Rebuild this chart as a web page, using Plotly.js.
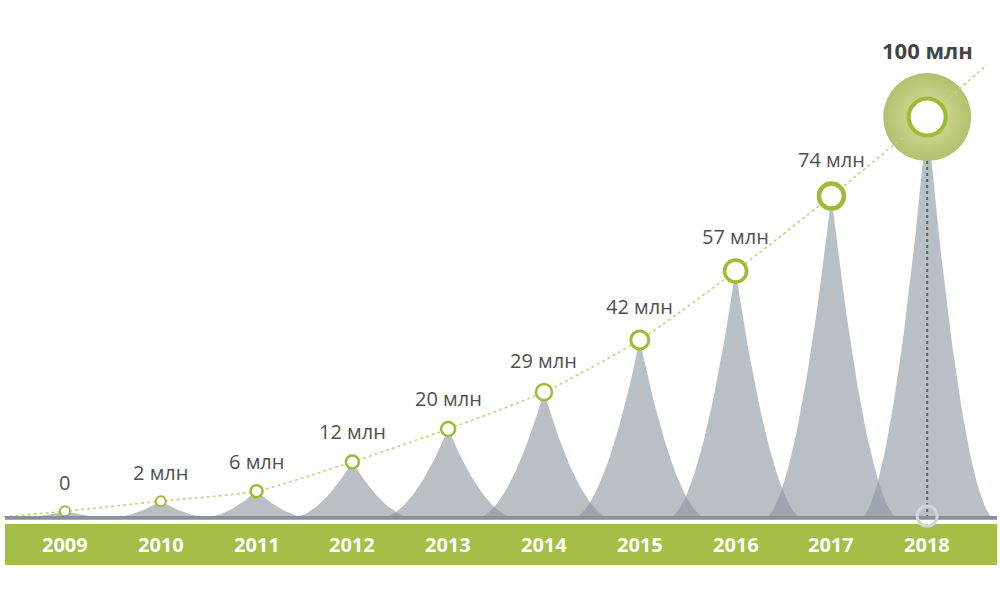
<!DOCTYPE html>
<html>
<head>
<meta charset="utf-8">
<script src="https://cdn.plot.ly/plotly-3.0.1.min.js"></script>
<style>
  html, body { margin: 0; padding: 0; background: #fff; }
  #chart { width: 1000px; height: 600px; }
</style>
</head>
<body>
<div id="chart"></div>
<script>
// years and the values written on the chart
var years = ['2009', '2010', '2011', '2012', '2013', '2014', '2015', '2016', '2017', '2018'];
var labels = ['0', '2 млн', '6 млн', '12 млн', '20 млн', '29 млн', '42 млн', '57 млн', '74 млн', '100 млн'];
// height of each point as drawn in the picture (млн, not strictly to scale)
var level = [1.7, 4.2, 6.7, 14.0, 22.2, 31.4, 44.4, 61.6, 80.3, 100];
// circle diameter and ring width per year
var ringSize = [10, 10, 12, 13, 14, 16, 18, 22, 25, 37];
var ringWidth = [2, 2, 2.5, 2.5, 2.5, 2.5, 3, 3.5, 4.5, 4];

var GREEN = '#9dbb35';
var BAND = '#a5be48';
var SPIKE = 'rgba(140,148,158,0.6)';

var X = years.map((y, i) => i);

/** one cusp shaped spike around category i with height h */
function spikeTrace(i, h) {
    var w = 0.5 + 0.2 * Math.min(1, h / 20);
    var xs = [], ys = [];
    var n = 40;
    for (var k = -n; k <= n; k++) {
        var t = k / n;
        xs.push(i + t * w);
        ys.push(h * Math.pow(1 - Math.abs(t), 1.8));
    }
    return {
        x: xs, y: ys, type: 'scatter', mode: 'lines',
        fill: 'toself', fillcolor: SPIKE,
        line: { width: 0 }, hoverinfo: 'skip', showlegend: false
    };
}

var data = [];
level.forEach((h, i) => data.push(spikeTrace(i, h)));

var last = years.length - 1;

// dark dotted drop line under the last point
data.push({
    x: [last, last], y: [0, level[last]], type: 'scatter', mode: 'lines',
    line: { color: '#5a6068', width: 2, dash: 'dot' }, hoverinfo: 'skip'
});

// halo behind the last point
data.push({
    x: [last], y: [level[last]], type: 'scatter', mode: 'markers',
    marker: {
        size: 88, color: '#b2c070', opacity: 1,
        gradient: { type: 'radial', color: '#d8e3a0' },
        line: { width: 0 }
    },
    hoverinfo: 'skip'
});

// dotted growth curve through the points, running off both edges
data.push({
    x: [-0.64].concat(X, [9.62]),
    y: [0.3].concat(level, [113]),
    type: 'scatter', mode: 'lines',
    line: { color: '#c2d37a', width: 1.6, dash: 'dot', shape: 'spline', smoothing: 0.6 },
    hoverinfo: 'skip'
});

// ring markers
data.push({
    x: X, y: level, type: 'scatter', mode: 'markers',
    marker: {
        size: ringSize, color: '#ffffff', opacity: 1,
        line: { color: GREEN, width: ringWidth }
    },
    hoverinfo: 'skip'
});

var annotations = [];
labels.forEach((txt, i) => {
    var isLast = i === last;
    var gap = isLast ? 24 + 43 : 24 + ringSize[i] * 0.5;
    annotations.push({
        x: i, y: level[i], xref: 'x', yref: 'y',
        text: isLast ? '<b>' + txt + '</b>' : txt,
        showarrow: false, yanchor: 'middle', yshift: gap,
        font: { family: 'Open Sans, sans-serif', size: isLast ? 22 : 20, color: isLast ? '#444444' : '#4f4f4f' }
    });
});
years.forEach((yr, i) => {
    annotations.push({
        x: i, y: -6.6, xref: 'x', yref: 'y',
        text: '<b>' + yr + '</b>', showarrow: false,
        font: { family: 'Open Sans, sans-serif', size: 20, color: '#ffffff' }
    });
});

var shapes = [
    // green band under the axis
    { type: 'rect', xref: 'paper', yref: 'y', x0: 0.005, x1: 0.997, y0: -1.5, y1: -11.7,
      fillcolor: BAND, line: { width: 0 }, layer: 'above' },
    // grey base line
    { type: 'rect', xref: 'paper', yref: 'y', x0: 0.005, x1: 0.997, y0: 0.5, y1: -0.45,
      fillcolor: '#8a9099', line: { width: 0 }, layer: 'above' },
    // small grey ring at the foot of the drop line
    { type: 'circle', xref: 'x', yref: 'y', xsizemode: 'pixel', ysizemode: 'pixel',
      xanchor: last, yanchor: 0.5, x0: -10, x1: 10, y0: -10, y1: 10,
      line: { color: '#d3d7db', width: 3 }, fillcolor: 'rgba(0,0,0,0)', layer: 'above' }
];

var layout = {
    width: 1000, height: 600,
    margin: { l: 0, r: 0, t: 0, b: 0, pad: 0 },
    paper_bgcolor: '#ffffff', plot_bgcolor: '#ffffff',
    showlegend: false,
    xaxis: { range: [-0.678, 9.76], visible: false, fixedrange: true },
    yaxis: { range: [-20.45, 129.2], visible: false, fixedrange: true },
    annotations: annotations,
    shapes: shapes
};

Plotly.newPlot('chart', data, layout, { displayModeBar: false, staticPlot: true });
</script>
</body>
</html>
